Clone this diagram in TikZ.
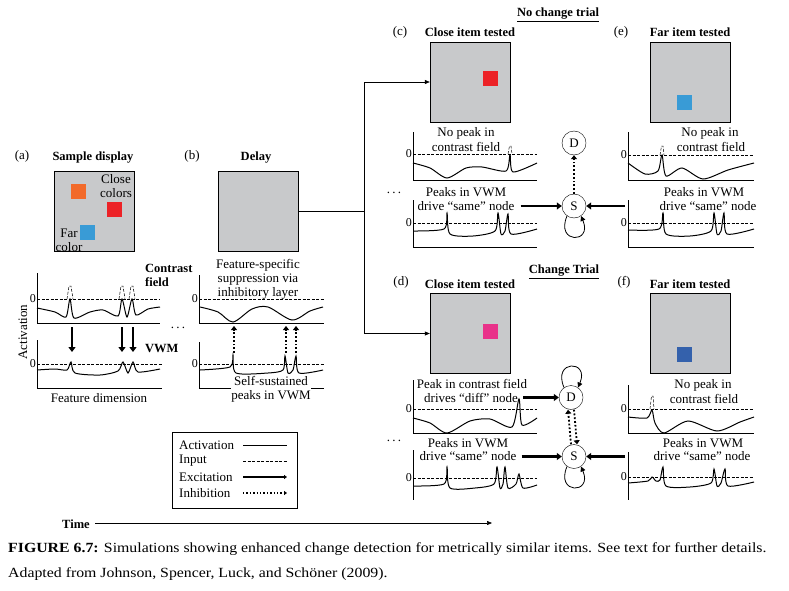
\documentclass[tikz,border=0pt]{standalone}
\usepackage{fontspec}
\setmainfont{Liberation Serif}
\usepackage{graphicx}
\usepackage{tikz}
\usepackage{xcolor}
\usetikzlibrary{positioning,arrows.meta}

\definecolor{dispgray}{RGB}{200,201,203}
\definecolor{orangeitem}{RGB}{242,106,42}
\definecolor{reditem}{RGB}{236,34,39}
\definecolor{blueitem}{RGB}{57,155,214}
\definecolor{pinkitem}{RGB}{233,50,138}
\definecolor{navyitem}{RGB}{52,97,172}

% axes of one field plot: x, top, bottom, zero level, right end
\newcommand{\fieldaxes}[5]{%
  \draw[line width=0.6pt] (#1,#2) -- (#1,#3) -- (#5,#3);
  \draw[input] (#1,#4) -- (#5,#4);
  \node[zero, left] at (#1,#4) {0};
}
\newcommand{\fieldaxesopen}[5]{%
  \draw[line width=0.6pt] (#1,#2) -- (#1,#3);
  \draw[input] (#1,#4) -- (#5,#4);
  \node[zero, left] at (#1,#4) {0};
}

\begin{document}
\begin{tikzpicture}[x=1pt, y=-1pt,
        disp/.style={draw=black, fill=dispgray, minimum size=80pt, inner sep=0pt},
        item/.style={minimum size=15pt, inner sep=0pt},
        lbl/.style={font=\fontsize{13}{14}\selectfont, align=center, inner sep=0pt},
        head/.style={font=\fontsize{12.5}{14}\selectfont\bfseries, inner sep=0pt},
        zero/.style={font=\fontsize{12}{14}\selectfont, inner sep=1pt},
        act/.style={line width=1pt},
        input/.style={dash pattern=on 3pt off 1.5pt, line width=0.5pt},
        exc/.style={line width=2.6pt, -{Triangle[length=5pt,width=7pt]}},
        inh/.style={line width=1.8pt, dotted, -{Triangle[length=4pt,width=6pt]}},
        unit/.style={circle, draw=black, fill=white, minimum size=24pt, inner sep=0pt, font=\fontsize{13}{14}\selectfont},
        selfloop/.style={line width=0.8pt, -{Triangle[length=5pt,width=5pt]}}
    ]
        \useasboundingbox (0,0) rectangle (789,591);

        % (a) Sample display
        \node[lbl] (la) at (22,156) {(a)};
        \node[head] (ta) at (93,158) {Sample display};
        \node[disp] (sqa) at (94,211) {};
        \node[item, fill=orangeitem] (oa) at (78.5,191.5) {};
        \node[item, fill=reditem] (ra) at (114.5,209.5) {};
        \node[item, fill=blueitem] (ba) at (87.5,232.5) {};
        \node[lbl] (close) at (116,186) {Close\\colors};
        \node[lbl] (far) at (69,240) {Far\\color};

        \fieldaxes{37}{273}{323}{299}{160}
        \draw[act] plot[smooth, tension=0.45] coordinates {(37,308) (55,312) (66,317) (70,299) (74,318) (90,312) (103,310) (118,316) (122,299) (127,317) (132,299) (136,315) (148,309) (160,307)};
        \foreach \x in {70,122,132}
            \draw[input] (\x-3,299) -- (\x-1,286) -- (\x+1,286) -- (\x+3,299);
        \fieldaxes{37}{340}{388}{364}{162}
        \draw[act] plot[smooth, tension=0.45] coordinates {(37,370) (55,369) (67,370) (71,362) (75,373) (100,375) (118,371) (123,362) (128,373) (133,362) (138,372) (160,369)};
        \foreach \x [count=\i] in {72,122,133} {
            \coordinate (ca\i) at (\x,327);
            \coordinate (va\i) at (\x,352);
            \draw[exc] (ca\i) -- (va\i);
        }
        \node[lbl, rotate=90] (yl) at (23,332) {Activation};
        \node[lbl] (xl) at (99,398) {Feature dimension};
        \node[head, align=left, anchor=west] (cf) at (145,275) {Contrast\\field};
        \node[head, anchor=west] (vwm) at (145,348) {VWM};
        \node[lbl] (dotsa) at (178,328) {.\,.\,.};

        % (b) Delay
        \node[lbl] (lb) at (192,156) {(b)};
        \node[head] (tb) at (256,158) {Delay};
        \node[disp] (sqb) at (258,211.5) {};
        \node[lbl] (supp) at (258,279) {Feature-specific\\suppression via\\inhibitory layer};
        \fieldaxes{199}{275}{323}{299}{324}
        \draw[act] plot[smooth, tension=0.5] coordinates {(200,307) (218,312) (233,322) (252,309) (268,307) (292,320) (310,311) (323,307)};
        \fieldaxes{199}{342}{388}{364}{324}
        \draw[act] plot[smooth, tension=0.45] coordinates {(200,370) (230,367) (233,355) (236,373) (268,373) (283,370) (285,356) (288,373) (293,370) (296,356) (299,373) (323,370)};
        \foreach \x [count=\i] in {234,286,296} {
            \coordinate (vb\i) at (\x,353);
            \coordinate (cb\i) at (\x,326);
            \draw[inh] (vb\i) -- (cb\i);
        }
        \node[lbl, fill=white, inner sep=0.5pt] (self) at (271,389) {Self-sustained\\peaks in VWM};

        % (c) No change, close item
        \node[head] (nct) at (558,15) {\underline{No change trial}};
        \node[lbl] (lc) at (400,32) {(c)};
        \node[head] (tc) at (470,32) {Close item tested};
        \node[disp] (sqc) at (470,82) {};
        \node[item, fill=reditem] (rc) at (490.5,79) {};
        \fieldaxes{413}{132}{180}{154}{537}
        \draw[act] plot[smooth, tension=0.45] coordinates {(413,163) (430,168) (447,178) (466,168) (482,167) (506,171) (510,155) (513,172) (537,163)};
        \draw[input] (508,154) -- (509.5,146) -- (511,146) -- (512,154);
        \node[lbl] (cnp1) at (466,133) {No peak in};
        \node[lbl] (cnp2) at (466,147) {contrast field};
        \fieldaxes{413}{200}{247}{223}{537}
        \draw[act] plot[smooth, tension=0.45] coordinates {(413,231) (444,229) (447,213) (450,234) (473,236) (495,231) (498,213) (501,234) (505,231) (508,214) (511,234) (537,229)};
        \node[lbl] (cpk1) at (466,192) {Peaks in VWM};
        \node[lbl] (cpk2) at (466,206) {drive ``same'' node};
        \node[lbl] (dotsc) at (394,193) {.\,.\,.};
        \node[unit] (cD) at (574,143) {D};
        \node[unit] (cS) at (574,206) {S};
        \draw[exc, shorten <=6pt] (cpk2.east) -- (cS.west);
        \draw[inh] (cS.north) -- (cD.south);
        \draw[selfloop] (cS.235) .. controls +(-12,28) and +(12,28) .. (cS.305);
        \coordinate (ce) at (625,206);
        \draw[exc] (ce) -- (cS.east);

        % (e) No change, far item
        \node[lbl] (le) at (621,32) {(e)};
        \node[head] (te) at (690,32) {Far item tested};
        \node[disp] (sqe) at (690,82) {};
        \node[item, fill=blueitem] (be) at (684.5,102.5) {};
        \fieldaxes{628}{132}{180}{155}{754}
        \draw[act] plot[smooth, tension=0.45] coordinates {(628,163) (645,174) (658,171) (662,155) (666,176) (682,168) (703,179) (728,170) (754,163)};
        \draw[input] (660,155) -- (661.5,146) -- (663,146) -- (664,155);
        \node[lbl] (enp1) at (710,133) {No peak in};
        \node[lbl] (enp2) at (711,147) {contrast field};
        \fieldaxes{628}{200}{247}{223}{754}
        \draw[act] plot[smooth, tension=0.45] coordinates {(628,230) (659,229) (663,213) (666,234) (690,236) (711,231) (714,213) (717,234) (721,231) (724,213) (727,234) (754,229)};
        \node[lbl] (epk1) at (704,192) {Peaks in VWM};
        \node[lbl] (epk2) at (708,206) {drive ``same'' node};

        % (d) Change, close item
        \node[head] (ct) at (564,272) {\underline{Change Trial}};
        \node[lbl] (ld) at (401,282) {(d)};
        \node[head] (td) at (470,284) {Close item tested};
        \node[disp] (sqd) at (470,333.5) {};
        \node[item, fill=pinkitem] (pd) at (490.5,331) {};
        \fieldaxes{413}{380}{433}{409}{537}
        \draw[act] plot[smooth, tension=0.45] coordinates {(413,418) (430,423) (447,433) (470,421) (490,419) (512,427) (519,399) (522,425) (537,418)};
        \node[lbl] (dpc1) at (472,384) {Peak in contrast field};
        \node[lbl] (dpc2) at (471,397.5) {drives ``diff'' node};
        \fieldaxesopen{413}{450}{500}{478}{537}
        \draw[act] plot[smooth, tension=0.45] coordinates {(413,486) (444,484) (447,467) (450,488) (475,488) (494,484) (497,467) (500,488) (503,484) (505,467) (508,488) (516,484) (519,474) (523,488) (537,485)};
        \node[lbl] (dpk1) at (468,443) {Peaks in VWM};
        \node[lbl] (dpk2) at (468,456.5) {drive ``same'' node};
        \node[lbl] (dotsd) at (394,441) {.\,.\,.};
        \node[unit] (dD) at (571,397.5) {D};
        \node[unit] (dS) at (574,456.5) {S};
        \draw[exc, shorten <=5pt] (dpc2.east) -- (dD.west);
        \draw[exc, shorten <=5pt] (dpk2.east) -- (dS.west);
        \draw[inh] ([xshift=-3pt]dS.north) -- ([xshift=-3pt]dD.south);
        \draw[inh] ([xshift=3pt]dD.south) -- ([xshift=3pt]dS.north);
        \draw[selfloop] (dD.125) .. controls +(-12,-28) and +(12,-28) .. (dD.55);
        \draw[selfloop] (dS.235) .. controls +(-12,28) and +(12,28) .. (dS.305);
        \coordinate (df) at (625,456.5);
        \draw[exc] (df) -- (dS.east);

        % (f) Change, far item
        \node[lbl] (lf) at (624,282) {(f)};
        \node[head] (tf) at (690,284) {Far item tested};
        \node[disp] (sqf) at (690,333.5) {};
        \node[item, fill=navyitem] (nf) at (684.5,354.5) {};
        \fieldaxes{628}{385}{433}{409}{754}
        \draw[act] plot[smooth, tension=0.45] coordinates {(628,417) (647,418) (652,410) (655,423) (664,433) (688,421) (717,431) (740,422) (754,417)};
        \draw[input] (650,409) -- (651.5,396) -- (653,396) -- (654,409);
        \node[lbl] (fnp1) at (703,385) {No peak in};
        \node[lbl] (fnp2) at (704,399) {contrast field};
        \fieldaxesopen{628}{452}{500}{477}{754}
        \draw[act] plot[smooth, tension=0.45] coordinates {(628,483) (648,481) (652,477) (656,481) (660,480) (663,467) (666,486) (690,487) (711,483) (714,469) (717,486) (721,483) (725,469) (728,486) (754,482)};
        \node[lbl] (fpk1) at (703,443) {Peaks in VWM};
        \node[lbl] (fpk2) at (702,456.5) {drive ``same'' node};

        % delay display feeds both test displays
        \coordinate (split) at (364,211.5);
        \draw[line width=0.6pt] (sqb.east) -- (split);
        \draw[line width=0.6pt, -{Triangle[length=5pt,width=4pt]}] (split) |- (sqc.west);
        \draw[line width=0.6pt, -{Triangle[length=5pt,width=4pt]}] (split) |- (sqd.west);

        % Legend
        \node[draw, line width=0.6pt, minimum width=125pt, minimum height=76pt] (legend) at (234.5,470) {};
        \foreach \s/\t [count=\i] in {act/Activation, input/Input, exc/Excitation, inh/Inhibition} {
            \node[lbl, anchor=west] (key\i) at (179,429+16*\i) {\t};
            \coordinate (k\i a) at (243,429+16*\i);
            \coordinate (k\i b) at (287,429+16*\i);
        }
        \draw[line width=0.5pt] (k1a) -- (k1b);
        \draw[input] (k2a) -- (k2b);
        \draw[line width=2.2pt, -{Triangle[length=3pt,width=4pt]}] (k3a) -- (k3b);
        \draw[line width=1.4pt, dotted, -{Triangle[length=3pt,width=4pt]}] (k4a) -- (k4b);

        % Time axis
        \node[head] (time) at (76,524) {Time};
        \coordinate (t0) at (95,523);
        \coordinate (t1) at (492,523);
        \draw[line width=0.6pt, -{Triangle[length=5pt,width=4pt]}] (t0) -- (t1);

        % Caption
        \node[anchor=west, inner sep=0pt, font=\fontsize{14}{16}\selectfont] (cap1) at (8,549) {\scalebox{1.13}[1]{\textbf{FIGURE 6.7:} Simulations showing enhanced change detection for metrically similar items. See text for further details.}};
        \node[anchor=west, inner sep=0pt, font=\fontsize{14}{16}\selectfont] (cap2) at (8,574) {\scalebox{1.13}[1]{Adapted from Johnson, Spencer, Luck, and Schöner (2009).}};
    \end{tikzpicture}
\end{document}
